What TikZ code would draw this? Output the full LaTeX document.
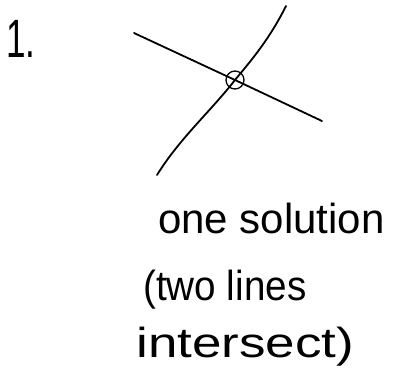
\documentclass[tikz,border=0pt]{standalone}
\usepackage{fontspec}
\setmainfont{Liberation Sans}
\begin{document}
\begin{tikzpicture}[x=1pt,y=-1pt,
  hand/.style={line width=1.8pt,line cap=round,black},
  lbl/.style={inner sep=0pt,anchor=base west,font=\fontsize{42}{46}\selectfont}]
\useasboundingbox[fill=white] (0,0) rectangle (394,381);
\node[inner sep=0pt,anchor=base west,font=\fontsize{54}{58}\selectfont,xscale=0.65] (num) at (6,57) {1.};
\coordinate (a1) at (134,33);
\coordinate (a2) at (322,121);
\coordinate (b1) at (286,6);
\coordinate (b2) at (157,175);
\node[draw,circle,line width=1.3pt,minimum size=18pt,inner sep=0pt] (x) at (235,80) {};
\draw[hand] (a1) -- (x.center) -- (a2);
\draw[hand] (b1) .. controls (268,42) and (248,64) .. (x.center) .. controls (210,112) and (180,138) .. (b2);
\node[lbl,xscale=1.0] (t1) at (158,233) {one solution};
\node[lbl,xscale=0.92] (t2) at (143,300) {(two lines};
\node[lbl,xscale=1.26] (t3) at (136,357) {intersect)};
\end{tikzpicture}
\end{document}
